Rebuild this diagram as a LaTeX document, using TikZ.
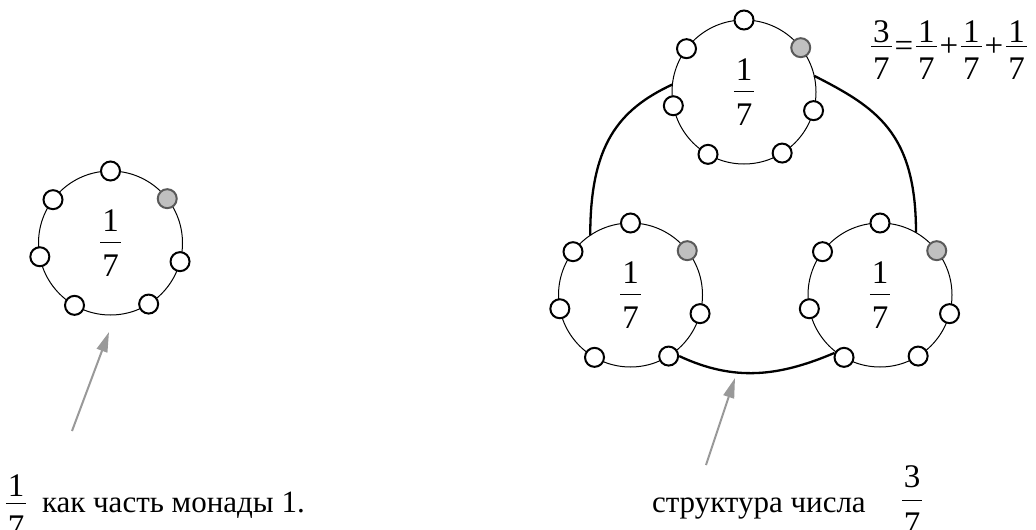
\documentclass[tikz,border=0pt]{standalone}
\usepackage{fontspec}
\setmainfont{Liberation Serif}
\usetikzlibrary{arrows.meta}
\definecolor{arrowgray}{HTML}{999999}
\definecolor{dotgray}{HTML}{C0C0C0}
\definecolor{dotedge}{HTML}{5A5A5A}
% fraction: numerator, denominator, gap above bar, gap below bar
\newcommand\fracx[4]{\ensuremath{\vcenter{\offinterlineskip\halign{\hfil##\hfil\cr\kern2pt#1\kern2pt\cr\noalign{\kern#3\hrule height0.9pt\kern#4}\kern2pt#2\kern2pt\cr}}}}
\newcommand\sym[1]{\mbox{\kern3pt#1\kern3pt}}
\begin{document}
\begin{tikzpicture}[x=1pt,y=1pt,
  txt/.style={font=\fontsize{31}{37}\selectfont, inner sep=0pt, outer sep=0pt},
  fractxt/.style={font=\fontsize{33}{39}\selectfont, inner sep=0pt, outer sep=0pt},
  ring/.style={circle, draw, line width=1pt, minimum size=144pt, inner sep=0pt, outer sep=0pt, font=\fontsize{33}{39}\selectfont},
  dot/.style={circle, draw, line width=2pt, fill=white, minimum size=19pt, inner sep=0pt},
  hotdot/.style={dot, fill=dotgray, draw=dotedge},
  link/.style={line width=2.3pt},
  pointer/.style={draw=arrowgray, line width=2pt, -{Triangle[length=20pt,width=11pt]}}
]
\useasboundingbox (0,0) rectangle (1036,-530);

% rings
\node[ring] (L) at (110.5,-243) {\fracx{1}{7}{10pt}{12pt}};
\node[ring] (T) at (744,-92) {\fracx{1}{7}{10pt}{12pt}};
\node[ring] (A) at (630.5,-295) {\fracx{1}{7}{10pt}{12pt}};
\node[ring] (B) at (880,-295) {\fracx{1}{7}{10pt}{12pt}};

% thick links
\draw[link] (A.124) .. controls +(0,90) and +(-54.4,-25.4) .. (T.174);
\draw[link] (B.60) .. controls +(0,100) and +(62.4,-31.8) .. (T.13);

% dots
\foreach \c in {L,T,A,B} {
  \foreach \a/\i/\s in {90/0/dot, 38/1/hotdot, -15/2/dot, -58/3/dot, 240/4/dot, 191.5/5/dot, 143/6/dot} {
    \node[\s] (\c\i) at (\c.\a) {};
  }
}

\draw[link] (A3.east) to[out=-25,in=203] (B4.155);

% pointers
\coordinate (p1) at (72,-431);
\coordinate (q1) at (109,-332);
\coordinate (p2) at (706,-465);
\coordinate (q2) at (735,-378);
\draw[pointer] (p1) -- (q1);
\draw[pointer] (p2) -- (q2);

% texts
\node[fractxt, anchor=west] (eq) at (871,-50) {\fracx{3}{7}{3pt}{11pt}\sym{=}\fracx{1}{7}{3pt}{11pt}\sym{+}\fracx{1}{7}{3pt}{11pt}\sym{+}\fracx{1}{7}{3pt}{11pt}};
\node[fractxt] (f1) at (16,-506) {\fracx{1}{7}{6pt}{12pt}};
\node[txt, anchor=base west] (cap1) at (42,-512) {как часть монады 1.};
\node[txt, anchor=base west] (cap2) at (652,-512) {структура числа};
\node[fractxt] (f2) at (912,-500) {\fracx{3}{7}{12pt}{12pt}};
\end{tikzpicture}
\end{document}
